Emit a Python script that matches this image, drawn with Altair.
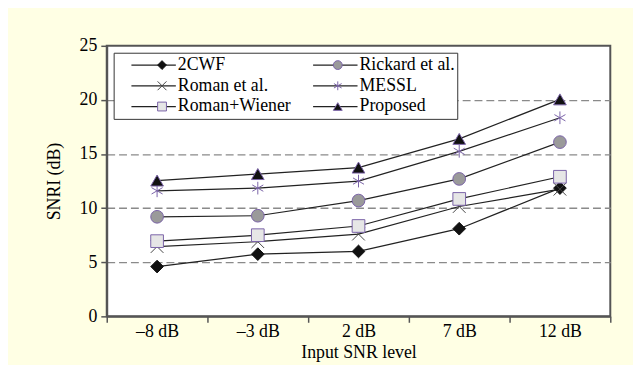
import altair as alt
import pandas as pd

levels = ["–8 dB", "–3 dB", "2 dB", "7 dB", "12 dB"]
series = ["2CWF", "Rickard et al.", "Roman et al.", "MESSL", "Roman+Wiener", "Proposed"]

cwf = [4.6, 5.75, 6.0, 8.1, 11.85]
rickard = [9.2, 9.3, 10.7, 12.7, 16.1]
roman = [6.45, 6.9, 7.6, 10.15, 11.75]
messl = [11.6, 11.85, 12.5, 15.25, 18.35]
roman_wiener = [6.95, 7.5, 8.35, 10.85, 12.9]
proposed = [12.55, 13.15, 13.75, 16.4, 20.05]

values = [cwf, rickard, roman, messl, roman_wiener, proposed]

rows = []
for name, vals in zip(series, values):
    for lev, v in zip(levels, vals):
        rows.append({"level": lev, "series": name, "series_l": name, "value": v})
df = pd.DataFrame(rows)

FONT = "Liberation Serif, Times New Roman, serif"
PURPLE = "#7a63a8"

shapes = ["diamond", "circle", "M-1,-1L1,1M-1,1L1,-1", "M0,-1L0,1M-0.87,-0.5L0.87,0.5M-0.87,0.5L0.87,-0.5", "square", "triangle-up"]
fills = ["#111111", "#9a9a9a", "transparent", "transparent", "#e6e6e6", "#111111"]
strokes = ["#111111", PURPLE, "#444444", PURPLE, PURPLE, PURPLE]

x_enc = alt.X(
    "level:N", sort=levels, bandPosition=0.5,
    scale=alt.Scale(type="band", paddingInner=0, paddingOuter=0),
    axis=alt.Axis(title="Input SNR level", tickBand="extent", labelAngle=0,
                  labelPadding=0, titlePadding=4),
)
y_enc = alt.Y(
    "value:Q", scale=alt.Scale(domain=[0, 25], nice=False, zero=True),
    axis=alt.Axis(title="SNRI (dB)", values=[0, 5, 10, 15, 20, 25], grid=True,
                  gridDash=[8, 4], gridColor="#8a8a8a", gridWidth=1.3,
                  gridOpacity={"condition": {"test": "datum.value === 0 || datum.value === 25", "value": 0}, "value": 1},
                  labelPadding=4, titlePadding=16),
)

line_legend = alt.Legend(
    title=None, orient="none", legendX=7, legendY=7, columns=2, direction="horizontal",
    symbolType="stroke", symbolSize=2025, symbolStrokeWidth=1.2, clipHeight=21,
    padding=2, rowPadding=0, columnPadding=6, symbolOffset=15, labelOffset=1,
    labelFont=FONT, labelFontSize=18, labelColor="black", labelLimit=0,
    labelExpr="datum.label === 'Rickard et al.' ? datum.label + '\u00a0\u00a0\u00a0\u00a0\u00a0' : datum.label",
    strokeColor="#333333", fillColor="white", zindex=1,
)
point_legend = alt.Legend(
    title=None, orient="none", legendX=7, legendY=7, columns=2, direction="horizontal",
    symbolSize=80, symbolStrokeWidth=1, clipHeight=21,
    padding=2, rowPadding=0, columnPadding=121, symbolOffset=38, labelOffset=1,
    labelFont=FONT, labelFontSize=18, labelExpr="''", labelLimit=0, zindex=2,
)

lines = alt.Chart(df).mark_line(strokeWidth=1.2).encode(
    x=x_enc, y=y_enc,
    color=alt.Color("series_l:N", scale=alt.Scale(domain=series, range=["#222222"] * 6), legend=line_legend),
)

points = alt.Chart(df).mark_point(filled=True, size=165, strokeWidth=1, opacity=1).encode(
    x=x_enc, y=y_enc,
    shape=alt.Shape("series:N", scale=alt.Scale(domain=series, range=shapes), legend=point_legend),
    fill=alt.Fill("series:N", scale=alt.Scale(domain=series, range=fills), legend=point_legend),
    stroke=alt.Stroke("series:N", scale=alt.Scale(domain=series, range=strokes), legend=point_legend),
)

chart = alt.layer(lines, points).resolve_scale(color="independent").properties(
    width=510, height=274,
    padding={"left": 100, "top": 36, "right": 23, "bottom": 49},
    autosize=alt.AutoSizeParams(type="none"),
    background="#ffffe4",
).configure_view(
    fill="white", stroke="#555555", strokeWidth=2,
).configure_axis(
    labelFont=FONT, titleFont=FONT, labelFontSize=18, titleFontSize=18,
    labelColor="black", titleColor="black", titleFontWeight="normal",
    domainColor="#555555", domainWidth=2, tickColor="#555555", tickWidth=1.5, tickSize=6,
).configure_axisX(grid=False)

chart.save("out.html", embed_options={"renderer": "svg", "actions": False})
